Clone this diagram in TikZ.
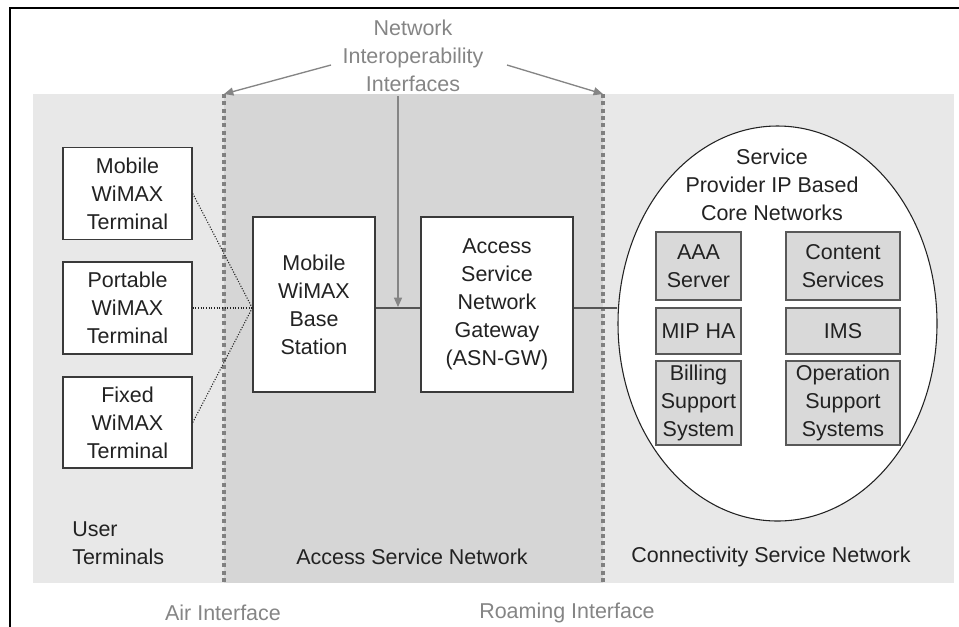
\documentclass[tikz,border=0pt]{standalone}
\usepackage{fontspec}
\setmainfont{Liberation Sans}
\usetikzlibrary{shapes.geometric,arrows.meta,calc}
\definecolor{bandgray}{HTML}{E8E8E8}
\definecolor{midgray}{HTML}{D6D6D6}
\definecolor{boxgray}{HTML}{D9D9D9}
\definecolor{ink}{HTML}{222222}
\definecolor{edge}{HTML}{3A3A3A}
\definecolor{linkgray}{HTML}{555555}
\definecolor{labelgray}{HTML}{858585}
\definecolor{dotgray}{HTML}{808080}

\begin{document}
\begin{tikzpicture}[x=0.75pt,y=-0.75pt,
  every node/.style={font=\fontsize{16.1}{21}\selectfont, text=ink, align=center, inner sep=0pt},
  whitebox/.style={draw=edge, line width=1.1pt, fill=white},
  graybox/.style={draw=edge!85, line width=1.1pt, fill=boxgray},
  boundary/.style={dotgray, line width=3pt, dash pattern=on 3pt off 2.5pt},
  radiolink/.style={ink, line width=0.8pt, dash pattern=on 0.8pt off 1.2pt},
  wire/.style={linkgray, line width=1.1pt},
  pointer/.style={labelgray, line width=1pt, -{Triangle[length=7pt,width=6pt]}},
  greylabel/.style={text=labelgray}]

\useasboundingbox (0,0) rectangle (959,626);
\clip (0,0) rectangle (959,626);

% page frame
\draw[black, line width=1.5pt] (10,8) rectangle (990,660);

% region bands
\fill[bandgray] (33,94) rectangle (954,583);
\fill[midgray] (224,94) rectangle (603,583);

% boundary coordinates
\coordinate (airtop) at (224,94);
\coordinate (airbot) at (224,583);
\coordinate (roamtop) at (603,94);
\coordinate (roambot) at (603,583);
\draw[boundary] (airtop) -- (airbot);
\draw[boundary] (roamtop) -- (roambot);

% user terminals
\node[whitebox, minimum width=96.75pt, minimum height=69pt] (t1) at (127.5,193.5) {Mobile\\WiMAX\\Terminal};
\node[whitebox, minimum width=96.75pt, minimum height=69pt] (t2) at (127.5,308) {Portable\\WiMAX\\Terminal};
\node[whitebox, minimum width=96.75pt, minimum height=68.25pt] (t3) at (127.5,422.5) {Fixed\\WiMAX\\Terminal};

% access service network
\node[whitebox, minimum width=91.5pt, minimum height=131.25pt] (bs) at (314,304.5) {Mobile\\WiMAX\\Base\\Station};
\node[whitebox, minimum width=114pt, minimum height=131.25pt] (gw) at (497,304.5) {Access\\Service\\Network\\Gateway\\(ASN-GW)};

% core network
\node[ellipse, draw=ink, line width=0.8pt, fill=white, minimum width=239.25pt, minimum height=296.25pt] (core) at (777.5,323.5) {};
\node (coretitle) at (772,185) {Service\\Provider IP Based\\Core Networks};
\node[graybox, minimum width=63.75pt, minimum height=51pt] (aaa) at (698.5,266) {AAA\\Server};
\node[graybox, minimum width=85.5pt, minimum height=51pt] (cs) at (843,266) {Content\\Services};
\node[graybox, minimum width=63.75pt, minimum height=34.5pt] (mip) at (698.5,331) {MIP HA};
\node[graybox, minimum width=85.5pt, minimum height=34.5pt] (ims) at (843,331) {IMS};
\node[graybox, minimum width=63.75pt, minimum height=63pt] (bill) at (698.5,403) {Billing\\Support\\System};
\node[graybox, minimum width=85.5pt, minimum height=63pt] (oss) at (843,403) {Operation\\Support\\Systems};

% links
\coordinate (lk) at (0,308);
\draw[wire] (bs.east |- lk) -- (gw.west |- lk);
\draw[wire] (gw.east |- lk) -- (core.west |- lk);
\draw[radiolink] (t1.east) -- (bs.west |- lk);
\draw[radiolink] (t2.east) -- (bs.west |- lk);
\draw[radiolink] (t3.east) -- (bs.west |- lk);

% interoperability annotation
\node[greylabel] (nii) at (413,56) {Network\\Interoperability\\Interfaces};
\coordinate (pl) at (331,65);
\coordinate (pr) at (507,65);
\coordinate (pd) at (398,96);
\coordinate (pdend) at (398,307);
\draw[pointer] (pl) -- (airtop);
\draw[pointer] (pr) -- (roamtop);
\draw[pointer] (pd) -- (pdend);

% region labels
\node[anchor=west, align=left] (ut) at (72,543) {User\\Terminals};
\node (asn) at (412,557) {Access Service Network};
\node (csn) at (771,557) {Connectivity Service Network};
\node[greylabel] (air) at (223,613) {Air Interface};
\node[greylabel] (roam) at (567,613) {Roaming Interface};
\end{tikzpicture}
\end{document}
